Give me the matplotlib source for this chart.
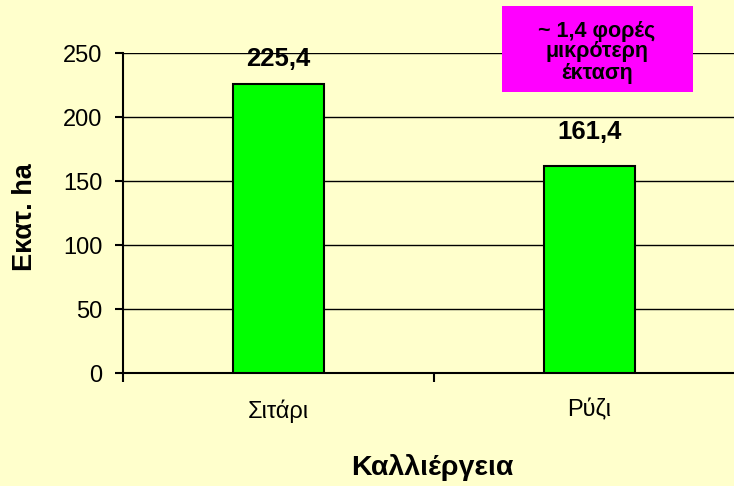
import matplotlib.pyplot as plt
from matplotlib.patches import Rectangle

plt.rcParams['font.family'] = ['Liberation Sans', 'DejaVu Sans']

# Data
crops = ["Σιτάρι", "Ρύζι"]
area = [225.4, 161.4]
value_labels = ["225,4", "161,4"]
label_offsets = [13, 20]  # points above bar top

bg = "#FFFFCC"

fig = plt.figure(figsize=(7.34, 4.86), dpi=100, facecolor=bg)
ax = fig.add_axes([123 / 734, 113 / 486, 622 / 734, 320 / 486], facecolor=bg)

x = list(range(len(crops)))
ax.bar(x, area, width=0.295, color="#00FF00", edgecolor="black", linewidth=1.5, zorder=3)

for xi, v, lab, off in zip(x, area, value_labels, label_offsets):
    ax.annotate(lab, (xi, v), xytext=(0, off), textcoords="offset points",
                ha="center", va="baseline", fontsize=18.5, fontweight="bold")

ax.set_xlim(-0.5, 1.5)
ax.set_ylim(0, 250)
ax.set_yticks(range(0, 251, 50))
ax.yaxis.grid(True, color="black", linewidth=1, zorder=0)
ax.set_axisbelow(True)

ax.set_xticks([-0.5, 0.5, 1.5])
ax.set_xticklabels([])
ax.set_xticks(x, minor=True)
ax.set_xticklabels(crops, minor=True, fontsize=17)
ax.tick_params(axis="x", which="minor", length=0, pad=19)
ax.tick_params(axis="x", which="major", length=6.5, width=1.5, direction="out")
ax.tick_params(axis="y", length=5.8, width=1.5, labelsize=17, pad=9)

for side in ["top", "right"]:
    ax.spines[side].set_visible(False)
for side in ["left", "bottom"]:
    ax.spines[side].set_linewidth(1.5)

fig.text(25 / 734, 1 - 217 / 486, "Εκατ. ha", rotation=90, ha="center", va="center",
         fontsize=19.5, fontweight="bold")
fig.text(432 / 734, 1 - 467 / 486, "Καλλιέργεια", ha="center", va="center",
         fontsize=20.5, fontweight="bold")

# magenta note box
fig.patches.append(Rectangle((502 / 734, 1 - 92 / 486), 191 / 734, 86 / 486,
                             transform=fig.transFigure, facecolor="#FF00FF",
                             edgecolor="none", zorder=5))
fig.text(597 / 734, 1 - 52 / 486, "~ 1,4 φορές\nμικρότερη\nέκταση", ha="center", va="center",
         fontsize=15.5, fontweight="bold", linespacing=1.0, zorder=6)

fig.savefig("out.png", dpi=100, facecolor=bg)
